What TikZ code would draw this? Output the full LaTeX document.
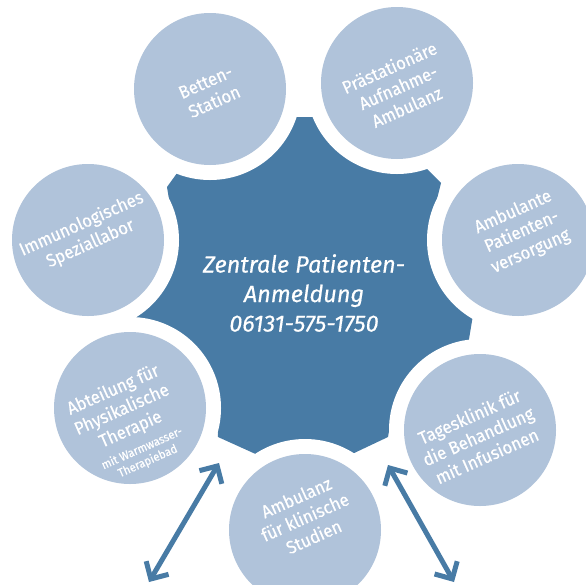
\documentclass[tikz,border=0pt]{standalone}
\usepackage{fontspec}
\setmainfont{Fira Sans}
\newfontfamily\labelfont{Fira Sans}[FakeBold=0.45, FakeStretch=0.93]
\newfontfamily\hubfont{Fira Sans}[FakeBold=0.4]
\usetikzlibrary{arrows.meta}
\definecolor{hubblue}{HTML}{487BA5}
\definecolor{unitblue}{HTML}{B0C3DA}

\begin{document}
\begin{tikzpicture}[x=1pt,y=-1pt,
  unit/.style={circle, fill=unitblue, minimum size=152pt, inner sep=0pt,
    preaction={draw=white, line width=30pt}},
  unittext/.style={rotate=24, text=white, align=center, inner sep=0pt,
    font=\labelfont\fontsize{18}{21.5}\selectfont},
  hubtext/.style={text=white, align=center, inner sep=0pt,
    font=\hubfont\itshape\fontsize{23.5}{29.5}\selectfont},
  link/.style={hubblue, line width=5pt,
    {Straight Barb[length=13pt, width=26pt]}-{Straight Barb[length=13pt, width=26pt]}}
]
\useasboundingbox (0,0) rectangle (586,584);
\clip (0,0) rectangle (586,584);

% central registration hub: a toothed shape, the gaps are cut by the unit circles
\fill[hubblue]
  (270,117) -- (340,117) -- (397,83) -- (415,157) -- (441,183) -- (433,215)
  -- (518,240) -- (451,285) -- (473,315) -- (468,345) -- (480,430)
  -- (390,425) -- (388,437) -- (350,455) -- (305,530) -- (260,456)
  -- (218,437) -- (216,405) -- (130,408) -- (138,328) -- (134,308)
  -- (155,291) -- (88,240) -- (172,218) -- (167,187) -- (180,169)
  -- (210,89) -- cycle;

\node[hubtext] (hub) at (304,293) {Zentrale Patienten-\\Anmeldung\\06131-575-1750};

% surrounding units
\node[unit] (betten) at (210,89) {};
\node[unit] (praest) at (397,83) {};
\node[unit] (ambpat) at (518,240) {};
\node[unit] (tages)  at (480,430) {};
\node[unit] (studien) at (305,530) {};
\node[unit] (physio) at (130,408) {};
\node[unit] (immuno) at (88,240) {};

\node[unittext] (tbetten) at (210,92) {Betten-\\Station};
\node[unittext] (tpraest) at (398,87) {Prästationäre\\Aufnahme-\\Ambulanz};
\node[unittext] (tambpat) at (522,232) {Ambulante\\Patienten-\\versorgung};
\node[unittext] (ttages) at (478,436) {Tagesklinik für\\die Behandlung\\mit Infusionen};
\node[unittext] (tstudien) at (305,517) {Ambulanz\\für klinische\\Studien};
\node[unittext] (tphysio) at (122,410) {Abteilung für\\Physikalische\\Therapie};
\node[unittext, font=\labelfont\fontsize{12}{14}\selectfont] (tphysiosub) at (145,455) {mit Warmwasser-\\Therapiebad};
\node[unittext] (timmuno) at (86,234) {Immunologisches\\Speziallabor};

% access arrows below the hub
\coordinate (la) at (219,463);
\coordinate (lb) at (149,582);
\coordinate (ra) at (388,465);
\coordinate (rb) at (454,582);
\draw[link] (la) -- (lb);
\draw[link] (ra) -- (rb);
\end{tikzpicture}
\end{document}
